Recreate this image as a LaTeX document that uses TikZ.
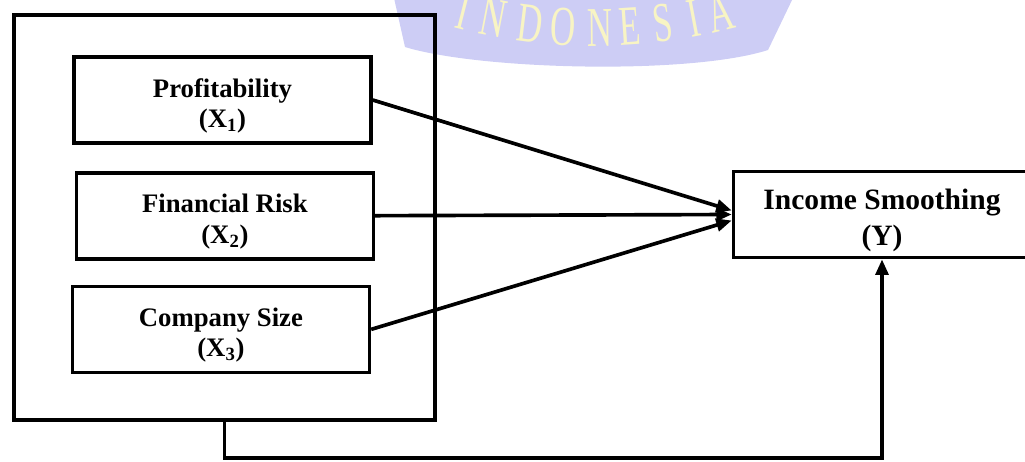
\documentclass[tikz,border=0pt]{standalone}
\usepackage{fontspec}
\setmainfont{Liberation Serif}
\usetikzlibrary{positioning}
\usetikzlibrary{calc}
\usetikzlibrary{arrows.meta}
\definecolor{wmblue}{RGB}{205,205,245}
\definecolor{wmtext}{RGB}{248,244,196}
\newcommand{\lift}[1]{\rule{0pt}{#1}}
\tikzset{
    var/.style={
    draw,
    line width=2.6pt,
    minimum width=7.42cm,
    minimum height=2.15cm,
    align=center,
    font=\fontsize{19}{21.5}\selectfont\bfseries
    },
    dep/.style={
    var,
    font=\fontsize{21}{25}\selectfont\bfseries
    },
    link/.style={
    ->,
    line width=2.6pt
    }
}

\begin{document}
\begin{tikzpicture}[x=0.025cm,y=-0.025cm,>={Triangle[length=11pt,width=9pt]}]
\useasboundingbox (0,0) rectangle (1025,461);

% watermark
\fill[wmblue] (394,-2) -- (405,47) .. controls (480,70) and (690,75) .. (768,50) -- (793,-2) -- cycle;
\foreach \ch/\px in {I/459,N/490,D/528,O/562,N/600,E/631,S/665,I/697,A/725}{
  \pgfmathsetmacro\ang{asin((\px-595)/550)}
  \pgfmathsetmacro\py{-504+550*cos(\ang)}
  \node[anchor=base,rotate=\ang,xscale=0.62,text=wmtext,font=\fontsize{40}{40}\selectfont,inner sep=0pt](wm\px) at (\px,\py) {\ch};
}

\node[draw,line width=3pt,minimum width=10.52cm,minimum height=10.12cm](frame) at (224.5,217.5) {};

\node[var](x1) at (222.5,100) {\lift{21.6pt}Profitability\\(X\textsubscript{1})};
\node[var,below=0.65cm of x1,xshift=0.06cm](x2) {\lift{21.6pt}Financial Risk\\(X\textsubscript{2})};
\node[var,below=0.6cm of x2,xshift=-0.1cm](x3) {\lift{21.6pt}Company Size\\(X\textsubscript{3})};

\node[dep](y) at (882,214.5) {\lift{23pt}Income Smoothing\\(Y)};

\draw[link] (x1.east) -- ($(y.west)+(0,-4)$);
\draw[link] (x2.east) -- (y.west);
\draw[link] (x3.east) -- ($(y.west)+(0,6)$);
\draw[link] (frame.south) -- ++(0,36) -| (y.south);

\end{tikzpicture}
\end{document}
